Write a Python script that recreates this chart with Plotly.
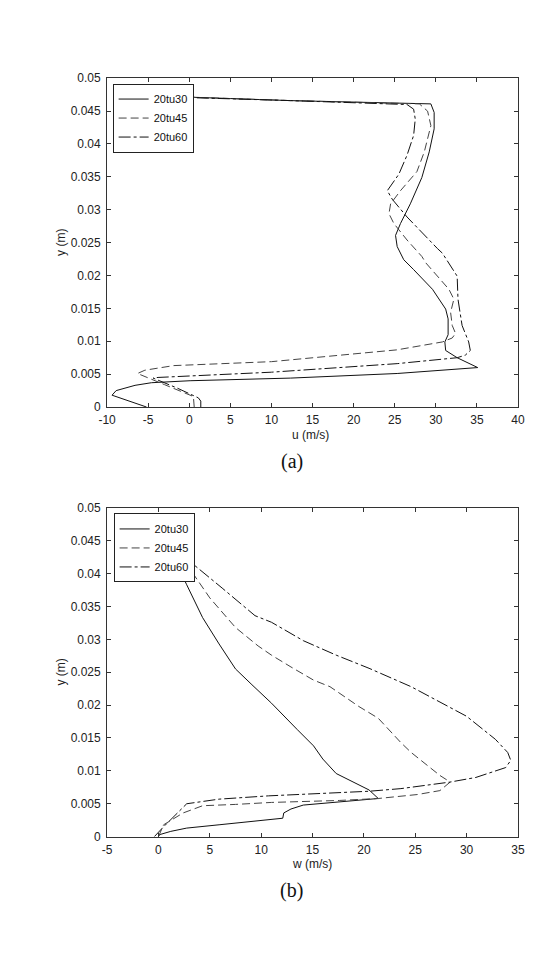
import plotly.graph_objects as go

# ---------------- data : panel (a)  u (m/s) vs y (m) ----------------
u30 = [-5.2, -7.3, -9.4, -8.9, -6.6, -4.6, 0.1, 12.3, 25.3, 35.1, 32.6, 31.2, 31.1, 31.5, 31.5,
       31.2, 29.6, 27.3, 26.1, 25.3, 25.1, 25.7, 26.9, 28.3, 29.2, 29.8, 29.8, 29.4, 20.0, 12.3, 0.6, -4.0]
y30a = [0.0, 0.0009, 0.0018, 0.0025, 0.0033, 0.0037, 0.0040, 0.0044, 0.0051, 0.0060, 0.0075, 0.0086,
        0.0099, 0.0110, 0.0134, 0.0149, 0.0179, 0.0209, 0.0224, 0.0244, 0.0261, 0.0279, 0.0309, 0.0349,
        0.0388, 0.0423, 0.0448, 0.0461, 0.0464, 0.0466, 0.0471, 0.0472]

u45 = [0.6, 0.5, -3.0, -6.3, -5.4, -1.9, 10.0, 20.6, 25.3, 30.8, 32.0, 32.4, 32.0, 31.8, 32.2, 31.6,
       28.8, 28.3, 26.5, 24.9, 24.3, 24.5, 25.7, 27.7, 28.6, 29.4, 29.0, 28.0, 12.3, 0.6, -4.0]
y45a = [0.0, 0.0016, 0.0034, 0.0051, 0.0056, 0.0063, 0.0069, 0.0081, 0.0087, 0.0099, 0.0105, 0.0112,
        0.0124, 0.0144, 0.0164, 0.0179, 0.0219, 0.0229, 0.0254, 0.0279, 0.0294, 0.0309, 0.0329, 0.0358,
        0.0388, 0.0428, 0.0450, 0.0461, 0.0466, 0.0471, 0.0472]

u60 = [1.4, 1.4, 1.1, -1.5, -4.4, -3.8, 10.0, 25.3, 32.6, 33.6, 34.2, 34.0, 33.2, 32.7, 32.6, 30.8,
       30.2, 28.4, 26.5, 24.7, 24.1, 25.5, 26.5, 27.3, 27.5, 27.3, 26.5, 12.3, 0.6, -4.0]
y60a = [0.0, 0.0009, 0.0014, 0.0029, 0.0044, 0.0045, 0.0053, 0.0066, 0.0075, 0.0079, 0.0086, 0.0099,
        0.0124, 0.0164, 0.0199, 0.0234, 0.0241, 0.0264, 0.0289, 0.0316, 0.0329, 0.0354, 0.0383, 0.0413,
        0.0438, 0.0453, 0.0460, 0.0466, 0.0471, 0.0472]

# ---------------- data : panel (b)  w (m/s) vs y (m) ----------------
w30 = [0.0, 0.1, 1.2, 2.75, 5.9, 10.0, 12.1, 12.2, 12.9, 14.1, 17.6, 21.4, 20.5, 18.9, 17.3, 16.0,
       15.1, 13.5, 11.0, 9.1, 7.5, 5.9, 4.3, 2.75, 1.8, 1.0]
y30b = [0.0, 0.0003, 0.0008, 0.0013, 0.0018, 0.0024, 0.0028, 0.0036, 0.0042, 0.0048, 0.0053, 0.0058,
        0.0071, 0.0083, 0.0096, 0.0118, 0.0138, 0.0163, 0.0203, 0.0231, 0.0255, 0.0293, 0.0333, 0.0383,
        0.0414, 0.0445]

w45 = [0.0, 0.5, 2.4, 4.3, 7.5, 11.0, 17.6, 21.4, 25.2, 27.4, 28.4, 27.4, 24.6, 23.6, 21.4, 19.5,
       16.7, 15.1, 12.9, 11.0, 9.7, 7.5, 5.0, 2.75, 1.5]
y45b = [0.0, 0.0018, 0.0036, 0.0047, 0.0049, 0.0052, 0.0055, 0.0058, 0.0064, 0.0070, 0.0083, 0.0093,
        0.0128, 0.0143, 0.0180, 0.0198, 0.0228, 0.0238, 0.0258, 0.0276, 0.0290, 0.0318, 0.0363, 0.0414,
        0.0445]

w60 = [-0.4, 0.5, 2.75, 5.9, 10.7, 17.6, 20.5, 23.6, 28.4, 30.9, 33.8, 34.3, 34.0, 32.8, 30.0, 24.6,
       20.5, 17.3, 14.1, 11.0, 9.4, 6.2, 3.4, 2.0]
y60b = [0.0, 0.0015, 0.0050, 0.0057, 0.0062, 0.0067, 0.0069, 0.0073, 0.0083, 0.0090, 0.0105, 0.0116,
        0.0128, 0.0148, 0.0183, 0.0228, 0.0256, 0.0276, 0.0298, 0.0326, 0.0336, 0.0378, 0.0414, 0.0445]

names = ["20tu30", "20tu45", "20tu60"]
y_ticks = [0, 0.005, 0.01, 0.015, 0.02, 0.025, 0.03, 0.035, 0.04, 0.045, 0.05]
y_ticktext = ["0", "0.005", "0.01", "0.015", "0.02", "0.025", "0.03", "0.035", "0.04", "0.045", "0.05"]
xa_ticks = list(range(-10, 41, 5))
xa_text = [str(v) for v in xa_ticks]
xb_ticks = list(range(-5, 36, 5))
xb_text = [str(v) for v in xb_ticks]

W, H = 558, 953
styles = [dict(color="#111111", width=1, dash="solid"),
          dict(color="#444444", width=1, dash="8px,4px"),
          dict(color="#111111", width=1, dash="12px,3px,3px,3px")]

fig = go.Figure()
for (xs, ys), nm, st in zip([(u30, y30a), (u45, y45a), (u60, y60a)], names, styles):
    fig.add_trace(go.Scatter(x=xs, y=ys, mode="lines", name=nm, line=st,
                             xaxis="x", yaxis="y", legend="legend"))
for (xs, ys), nm, st in zip([(w30, y30b), (w45, y45b), (w60, y60b)], names, styles):
    fig.add_trace(go.Scatter(x=xs, y=ys, mode="lines", name=nm, line=st,
                             xaxis="x2", yaxis="y2", legend="legend2"))

tickfont = dict(family="Liberation Sans, Arial, sans-serif", size=12, color="#222222")
axcommon = dict(showline=True, linecolor="#333333", linewidth=1, mirror="ticks",
                ticks="inside", ticklen=4, tickcolor="#333333", showgrid=False,
                zeroline=False, tickfont=tickfont)

xdom = [101 / W, 524 / W]
fig.update_layout(
    width=W, height=H, margin=dict(l=0, r=0, t=0, b=0),
    paper_bgcolor="white", plot_bgcolor="white",
    xaxis=dict(domain=xdom, range=[-10, 40], tickvals=xa_ticks, ticktext=xa_text,
               anchor="y", ticklabelstandoff=2, **axcommon),
    yaxis=dict(domain=[1 - 406 / H, 1 - 72.3 / H], range=[0, 0.05], tickvals=y_ticks,
               ticktext=y_ticktext, anchor="x", ticklabelstandoff=3, **axcommon),
    xaxis2=dict(domain=xdom, range=[-5, 35], tickvals=xb_ticks, ticktext=xb_text,
                anchor="y2", ticklabelstandoff=2, **axcommon),
    yaxis2=dict(domain=[1 - 842 / H, 1 - 508.3 / H], range=[0, 0.05], tickvals=y_ticks,
                ticktext=y_ticktext, anchor="x2", ticklabelstandoff=3, **axcommon),
    legend=dict(x=106.7 / W, y=1 - 77.7 / H, xanchor="left", yanchor="top",
                bgcolor="white", bordercolor="#222222", borderwidth=1,
                font=dict(family="Liberation Sans, Arial, sans-serif", size=11, color="#111111")),
    legend2=dict(x=107.7 / W, y=1 - 514 / H, xanchor="left", yanchor="top",
                 bgcolor="white", bordercolor="#222222", borderwidth=1,
                 font=dict(family="Liberation Sans, Arial, sans-serif", size=11, color="#111111")),
)

labfont = dict(family="Liberation Sans, Arial, sans-serif", size=12, color="#222222")
capfont = dict(family="Liberation Serif, Times New Roman, serif", size=20, color="#111111")
ann = [
    dict(text="y (m)", x=54 / W, y=1 - 239 / H, textangle=-90, font=labfont),
    dict(text="u (m/s)", x=310 / W, y=1 - 434 / H, font=labfont),
    dict(text="(a)", x=291 / W, y=1 - 461 / H, font=capfont),
    dict(text="y (m)", x=54 / W, y=1 - 675 / H, textangle=-90, font=labfont),
    dict(text="w (m/s)", x=312 / W, y=1 - 870 / H, font=labfont),
    dict(text="(b)", x=291 / W, y=1 - 897 / H, font=capfont),
]
for a in ann:
    fig.add_annotation(xref="paper", yref="paper", showarrow=False,
                       xanchor="center", yanchor="middle", **a)

fig.write_html("out.html")
